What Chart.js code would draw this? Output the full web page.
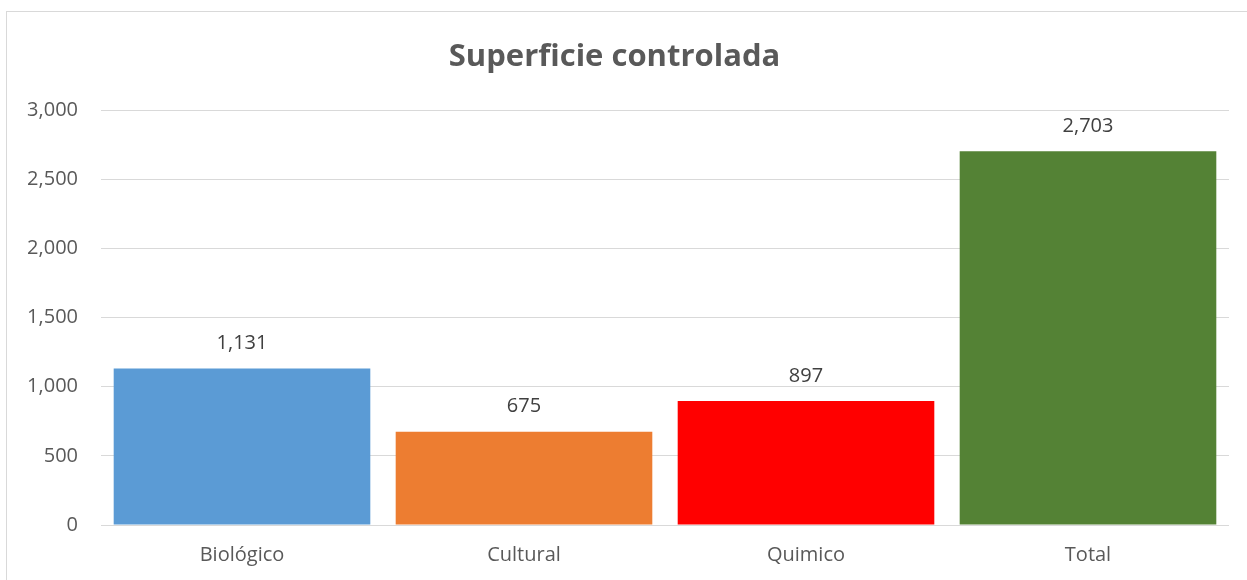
<!DOCTYPE html>
<html>
<head>
<meta charset="utf-8">
<script src="https://cdn.jsdelivr.net/npm/chart.js@4"></script>
<style>
  html, body { margin: 0; padding: 0; background: #fff; overflow: hidden; }
  #wrap { position: relative; width: 1247px; height: 580px; }
  #frame { position: absolute; left: 6px; top: 11px; width: 1260px; height: 600px;
           border: 1px solid #d9d9d9; box-sizing: border-box; }
  canvas { position: absolute; left: 0; top: 0; }
</style>
</head>
<body>
<div id="wrap">
  <div id="frame"></div>
  <canvas id="chart" width="1247" height="580"></canvas>
</div>
<script>
var categories = ["Biológico", "Cultural", "Quimico", "Total"];
var values = [1131, 675, 897, 2703];
var barColors = ["#5b9bd5", "#ed7d31", "#ff0000", "#548235"];
var yTicks = [0, 500, 1000, 1500, 2000, 2500, 3000];

var fontFamily = "'Open Sans', 'Noto Sans', sans-serif";

function fmt(v) {
  return v.toLocaleString("en-US");
}

// labels above each bar
var valueLabels = {
  id: "valueLabels",
  afterDatasetsDraw: function(chart) {
    var ctx = chart.ctx;
    var meta = chart.getDatasetMeta(0);
    ctx.save();
    ctx.font = "20px " + fontFamily;
    ctx.fillStyle = "#404040";
    ctx.textAlign = "center";
    ctx.textBaseline = "middle";
    meta.data.forEach(function(bar, i) {
      ctx.fillText(fmt(values[i]), bar.x, bar.y - 25);
    });
    ctx.restore();
  }
};

new Chart("chart", {
  type: "bar",
  data: {
    labels: categories,
    datasets: [
      {
        label: "Superficie controlada",
        data: values,
        backgroundColor: barColors,
        borderWidth: 0,
        categoryPercentage: 1,
        barPercentage: 0.91
      }
    ]
  },
  options: {
    responsive: false,
    animation: false,
    layout: { padding: { left: 0, right: 18, top: 0, bottom: 0 } },
    plugins: {
      legend: { display: false },
      tooltip: { enabled: false },
      title: {
        display: true,
        text: "Superficie controlada",
        color: "#595959",
        font: { family: fontFamily, size: 31, weight: "bold", lineHeight: 1.2 },
        padding: { top: 39, bottom: 34 }
      }
    },
    scales: {
      x: {
        grid: { display: false, drawTicks: false },
        border: { display: false },
        ticks: { color: "#595959", font: { family: fontFamily, size: 20 }, padding: 18 },
        afterFit: function(scale) { scale.height = 55; }
      },
      y: {
        min: 0,
        max: 3000,
        afterBuildTicks: function(scale) {
          scale.ticks = yTicks.map(function(v) { return { value: v }; });
        },
        grid: { color: "#d9d9d9", lineWidth: 1, drawTicks: false },
        border: { display: false },
        ticks: {
          color: "#595959",
          font: { family: fontFamily, size: 20 },
          padding: 23,
          callback: function(v) { return fmt(v); }
        },
        afterFit: function(scale) { scale.width = 101; }
      }
    }
  },
  plugins: [valueLabels]
});
</script>
</body>
</html>
